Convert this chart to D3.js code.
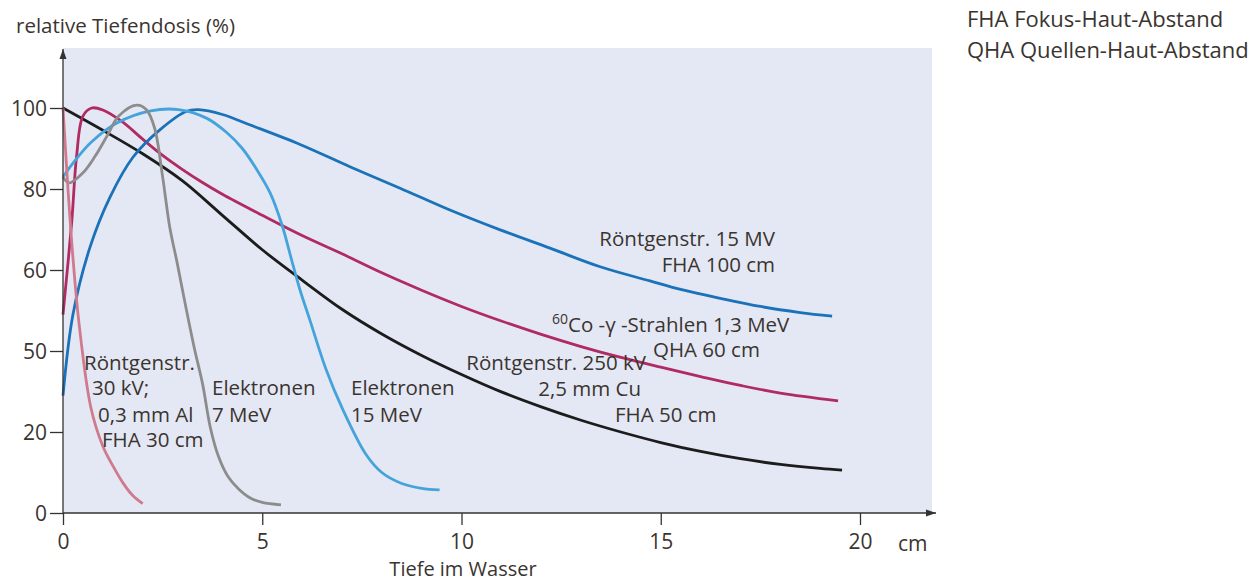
<!DOCTYPE html>
<html>
<head>
<meta charset="utf-8">
<script src="https://cdn.jsdelivr.net/npm/d3@7"></script>
<style>
  body { margin: 0; background: #fff; }
  text { font-family: "Open Sans", sans-serif; fill: #3a3430; }
</style>
</head>
<body>
<script>
// depth in cm, relative dose in %
const xTicks = [0, 5, 10, 15, 20];
const yTicks = [0, 20, 40, 60, 80, 100];
const yTickLabels = ["0", "20", "50", "60", "80", "100"]; // as printed

const rx30kV = [[0,100],[0.125,80],[0.25,63],[0.4,47],[0.7,26],[1.0,16.5],[1.26,11.5],[1.5,7.5],[1.75,4.3],[2.0,2.3]];
const el7MeV = [[0,83],[0.15,81.5],[0.5,84],[0.8,88],[1.1,93],[1.4,98],[1.85,100.7],[2.1,99.5],[2.3,95],[2.5,83],[2.68,70.5],[2.86,62],[3.1,50],[3.3,40.5],[3.5,32],[3.7,21],[3.9,14],[4.14,9],[4.4,6],[4.7,3.7],[5.0,2.6],[5.47,2]];
const el15MeV = [[0,83],[0.3,87],[0.7,91.5],[1.35,96.3],[2.2,99.3],[2.9,99.6],[3.6,97.5],[4.1,94],[4.5,90],[4.85,85],[5.2,79],[5.5,71],[5.75,62],[5.95,55],[6.2,47.5],[6.6,35.5],[7.0,26],[7.6,14.5],[8.0,10],[8.5,7.3],[9.0,6.1],[9.45,5.7]];
const rx15MV = [[0,29],[0.25,49],[0.68,65.7],[1.18,78],[1.76,87.9],[2.43,94.6],[3.1,99.2],[3.4,99.6],[4.0,98.4],[4.7,95.8],[5.95,91.0],[7.2,85.5],[8.46,80.2],[9.71,74.8],[10.97,69.9],[12.22,65.4],[13.48,60.8],[14.73,57.3],[15.5,55.2],[16.5,53],[17.5,51],[18.5,49.5],[19.3,48.6]];
const co60 = [[0,49],[0.22,72],[0.34,88],[0.5,98],[0.72,100],[1.0,99.5],[1.5,96.5],[2,92.3],[2.5,88.3],[3,84.8],[3.5,81.6],[4,78.7],[5,73.5],[6,68.5],[7,64],[8,59.3],[9,55],[10,51],[11,47.4],[12,44.1],[13,41.1],[14,38.4],[15,36],[16,33.7],[17,31.5],[18,29.6],[19.45,27.7]];
const rx250kV = [[0,100],[1,94.5],[2,88.7],[3,82],[4,73.5],[5,65],[6,57.5],[7,50.3],[8,44.2],[9,38.9],[10,34.2],[11,29.9],[12,26.2],[13,22.9],[14,20],[15,17.4],[16,15.2],[17,13.4],[18,12],[19,11],[19.55,10.6]];

const series = [
  {data: rx250kV, color: "#1c1c1c"},
  {data: co60, color: "#b02a63"},
  {data: rx15MV, color: "#1a72b9"},
  {data: el15MeV, color: "#45a3dc"},
  {data: el7MeV, color: "#8c8c8c"},
  {data: rx30kV, color: "#d07a8e"}
];

const width = 1249, height = 581;
const x = d3.scaleLinear().domain([0, 20]).range([63, 860]);
const y = d3.scaleLinear().domain([0, 100]).range([513, 108]);

const svg = d3.select("body").append("svg")
    .attr("width", width)
    .attr("height", height);

svg.append("rect")
    .attr("x", x(0)).attr("y", 48)
    .attr("width", 932 - x(0)).attr("height", y(0) - 48)
    .attr("fill", "#e4e8f4");

const line = d3.line()
    .curve(d3.curveCatmullRom.alpha(0.5))
    .x(d => x(d[0]))
    .y(d => y(d[1]));

svg.append("g")
    .attr("fill", "none")
    .attr("stroke-width", 2.8)
  .selectAll("path")
  .data(series)
  .join("path")
    .attr("stroke", d => d.color)
    .attr("d", d => line(d.data));

// axes
const axisColor = "#333";
const yAxis = svg.append("g")
    .attr("transform", `translate(${x(0)},0)`)
    .call(d3.axisLeft(y).tickValues(yTicks).tickSize(13).tickPadding(3)
      .tickFormat((d, i) => yTickLabels[i]));
const xAxis = svg.append("g")
    .attr("transform", `translate(0,${y(0)})`)
    .call(d3.axisBottom(x).tickValues(xTicks).tickSize(12).tickPadding(9));

[yAxis, xAxis].forEach(g => {
  g.select(".domain").remove();
  g.selectAll("line").attr("stroke", axisColor).attr("stroke-width", 1.3);
  g.selectAll("text").attr("font-size", 21).attr("font-family", "'Open Sans', sans-serif").attr("fill", "#3a3430");
});
yAxis.selectAll("text").attr("dy", "0.36em");

svg.append("defs").append("marker")
    .attr("id", "arrow")
    .attr("viewBox", "0 0 10 10")
    .attr("refX", 10).attr("refY", 5)
    .attr("markerWidth", 10).attr("markerHeight", 10)
    .attr("markerUnits", "userSpaceOnUse")
    .attr("orient", "auto")
  .append("path")
    .attr("d", "M0,1.5L10,5L0,8.5Z")
    .attr("fill", axisColor);

svg.append("line")
    .attr("x1", x(0)).attr("y1", y(0))
    .attr("x2", x(0)).attr("y2", 49)
    .attr("stroke", axisColor).attr("stroke-width", 1.3)
    .attr("marker-end", "url(#arrow)");
svg.append("line")
    .attr("x1", x(0)).attr("y1", y(0))
    .attr("x2", 936).attr("y2", y(0))
    .attr("stroke", axisColor).attr("stroke-width", 1.3)
    .attr("marker-end", "url(#arrow)");

// titles
svg.append("text").attr("x", 16).attr("y", 33).attr("font-size", 20.5)
    .text("relative Tiefendosis (%)");
svg.append("text").attr("x", 898).attr("y", 551).attr("font-size", 21).text("cm");
svg.append("text").attr("x", 463).attr("y", 576).attr("font-size", 20)
    .attr("text-anchor", "middle").text("Tiefe im Wasser");

svg.append("text").attr("x", 967).attr("y", 27).attr("font-size", 22)
    .text("FHA Fokus-Haut-Abstand");
svg.append("text").attr("x", 967).attr("y", 58).attr("font-size", 22)
    .text("QHA Quellen-Haut-Abstand");

// curve labels
const labels = [
  {x: 775, y: 246, a: "end", t: "Röntgenstr. 15 MV"},
  {x: 775, y: 272, a: "end", t: "FHA 100 cm"},
  {x: 653, y: 357, a: "start", t: "QHA 60 cm"},
  {x: 646, y: 370, a: "end", t: "Röntgenstr. 250 kV"},
  {x: 641, y: 396, a: "end", t: "2,5 mm Cu"},
  {x: 615, y: 422, a: "start", t: "FHA 50 cm"},
  {x: 351, y: 395, a: "start", t: "Elektronen"},
  {x: 351, y: 422, a: "start", t: "15 MeV"},
  {x: 212, y: 395, a: "start", t: "Elektronen"},
  {x: 212, y: 422, a: "start", t: "7 MeV"},
  {x: 84, y: 370, a: "start", t: "Röntgenstr."},
  {x: 92, y: 395, a: "start", t: "30 kV;"},
  {x: 98, y: 422, a: "start", t: "0,3 mm Al"},
  {x: 102, y: 447, a: "start", t: "FHA 30 cm"}
];
svg.append("g").attr("font-size", 20.5)
  .selectAll("text")
  .data(labels)
  .join("text")
    .attr("x", d => d.x).attr("y", d => d.y)
    .attr("text-anchor", d => d.a)
    .text(d => d.t);

const co = svg.append("text").attr("x", 552).attr("y", 332).attr("font-size", 20.5);
co.append("tspan").attr("font-size", 14).attr("dy", -8).text("60");
co.append("tspan").attr("dy", 8).text("Co -γ -Strahlen 1,3 MeV");
</script>
</body>
</html>
